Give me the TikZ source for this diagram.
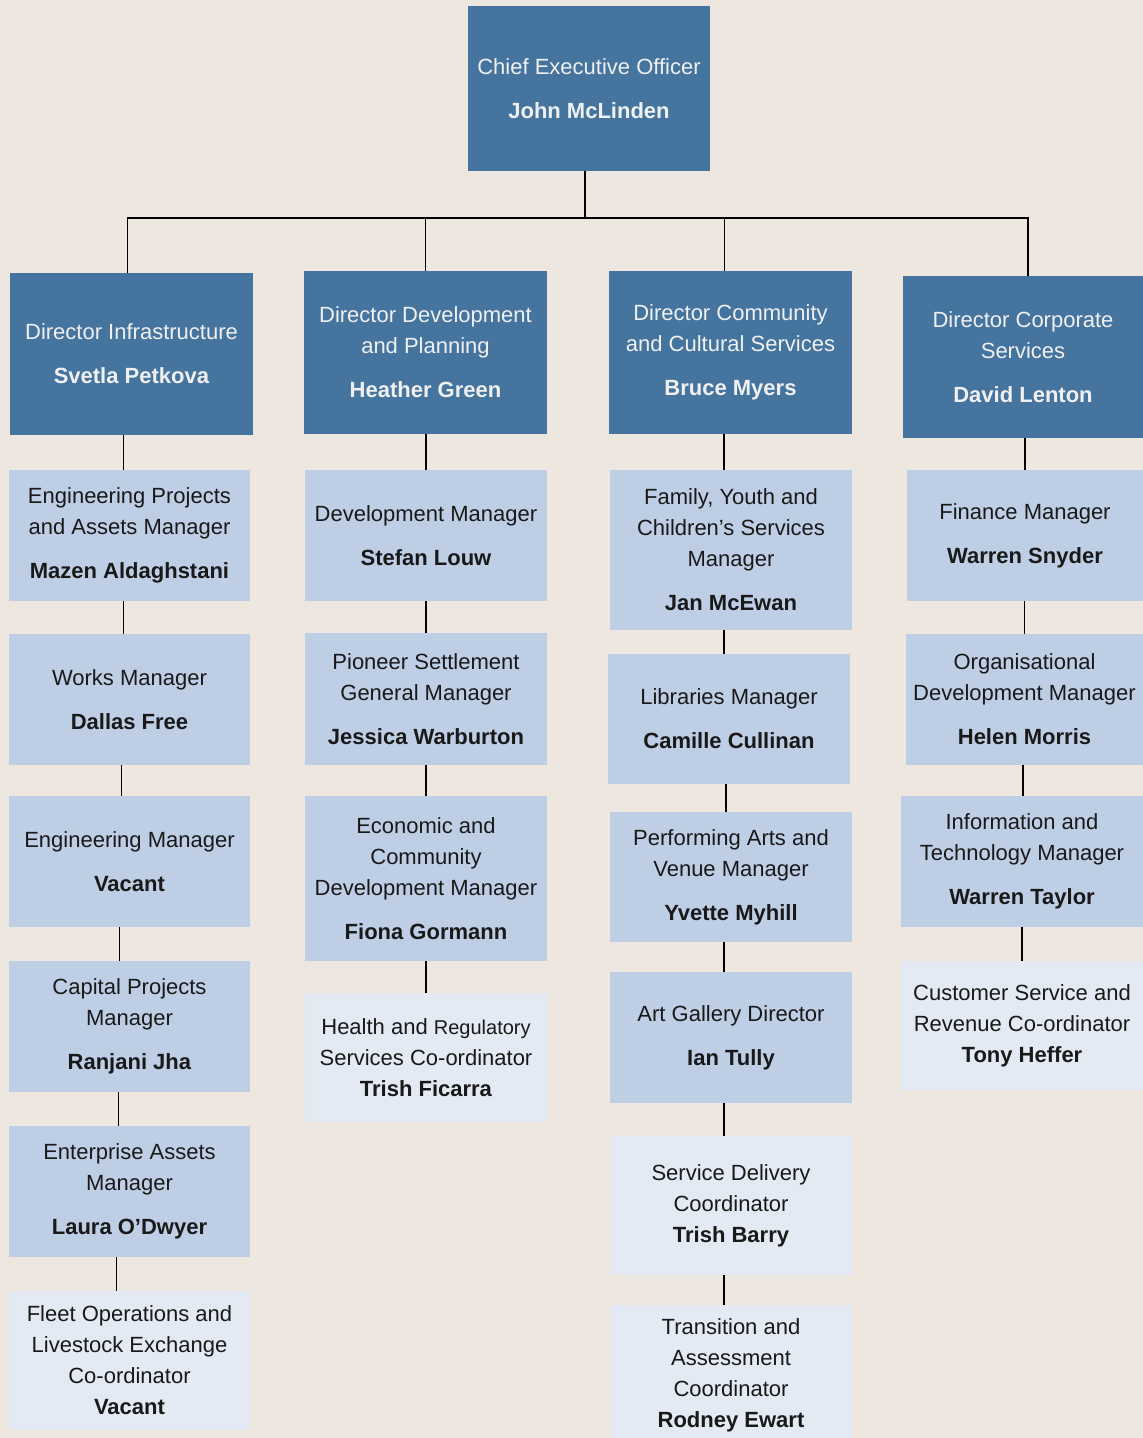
\documentclass[tikz,border=0pt]{standalone}
\usepackage{fontspec}
\setmainfont{Liberation Sans}
\definecolor{bgbeige}{RGB}{238,231,224}
\definecolor{headblue}{RGB}{69,116,159}
\definecolor{staffblue}{RGB}{190,207,229}
\definecolor{paleblue}{RGB}{227,234,243}
\tikzset{
  orgbox/.style={inner sep=0pt, align=center, font=\fontsize{22}{31}\selectfont},
  headbox/.style={orgbox, fill=headblue, text=white!94!black, minimum width=243, minimum height=163},
  staffbox/.style={orgbox, fill=staffblue, text=black!90, minimum width=241, minimum height=131},
  palebox/.style={orgbox, fill=paleblue, text=black!90, minimum width=241, minimum height=130},
  orgline/.style={line width=1.6pt, black}
}
\begin{document}
\begin{tikzpicture}[x=1pt, y=-1pt]
  \useasboundingbox (0,0) rectangle (1143,1438);
  \clip (0,0) rectangle (1143,1438);
  \fill[bgbeige] (0,0) rectangle (1143,1438);
  % CEO
  \node[headbox, minimum width=242, minimum height=165] (ceo) at (589,88.5)
    {Chief Executive Officer\\[13pt]\textbf{John McLinden}};
  % directors
  \node[headbox, minimum height=162] (d1) at (131.5,354)
    {Director Infrastructure\\[13pt]\textbf{Svetla Petkova}};
  \node[headbox] (d2) at (425.5,352.5)
    {Director Development\\and Planning\\[13pt]\textbf{Heather Green}};
  \node[headbox] (d3) at (730.5,352.5)
    {Director Community\\and Cultural Services\\[13pt]\textbf{Bruce Myers}};
  \node[headbox, minimum width=240, minimum height=162] (d4) at (1023,357)
    {Director Corporate\\Services\\[13pt]\textbf{David Lenton}};
  % infrastructure
  \node[staffbox] (i1) at (129.5,535.5)
    {Engineering Projects\\and Assets Manager\\[13pt]\textbf{Mazen Aldaghstani}};
  \node[staffbox] (i2) at (129.5,699.5)
    {Works Manager\\[13pt]\textbf{Dallas Free}};
  \node[staffbox] (i3) at (129.5,861.5)
    {Engineering Manager\\[13pt]\textbf{Vacant}};
  \node[staffbox] (i4) at (129.5,1026.5)
    {Capital Projects\\Manager\\[13pt]\textbf{Ranjani Jha}};
  \node[staffbox] (i5) at (129.5,1191.5)
    {Enterprise Assets\\Manager\\[13pt]\textbf{Laura O'Dwyer}};
  \node[palebox, minimum height=139] (i6) at (129.5,1360.5)
    {Fleet Operations and\\Livestock Exchange\\Co-ordinator\\\textbf{Vacant}};
  % development and planning
  \node[staffbox, minimum width=242] (p1) at (426,535.5)
    {Development Manager\\[13pt]\textbf{Stefan Louw}};
  \node[staffbox, minimum width=242, minimum height=132] (p2) at (426,699)
    {Pioneer Settlement\\General Manager\\[13pt]\textbf{Jessica Warburton}};
  \node[staffbox, minimum width=242, minimum height=165] (p3) at (426,878.5)
    {Economic and\\Community\\Development Manager\\[13pt]\textbf{Fiona Gormann}};
  \node[palebox, minimum width=242, minimum height=129] (p4) at (426,1057.5)
    {Health and {\fontsize{20}{31}\selectfont Regulatory}\\Services Co-ordinator\\\textbf{Trish Ficarra}};
  % community and cultural
  \node[staffbox, minimum width=242, minimum height=160] (c1) at (731,550)
    {Family, Youth and\\Children's Services\\Manager\\[13pt]\textbf{Jan McEwan}};
  \node[staffbox, minimum width=242, minimum height=130] (c2) at (729,719)
    {Libraries Manager\\[13pt]\textbf{Camille Cullinan}};
  \node[staffbox, minimum width=242, minimum height=130] (c3) at (731,877)
    {Performing Arts and\\Venue Manager\\[13pt]\textbf{Yvette Myhill}};
  \node[staffbox, minimum width=242] (c4) at (731,1037.5)
    {Art Gallery Director\\[13pt]\textbf{Ian Tully}};
  \node[palebox, minimum width=242, minimum height=139] (c5) at (731,1205.5)
    {Service Delivery\\Coordinator\\\textbf{Trish Barry}};
  \node[palebox, minimum width=242, minimum height=141] (c6) at (731,1375.5)
    {Transition and\\Assessment\\Coordinator\\\textbf{Rodney Ewart}};
  % corporate services
  \node[staffbox, minimum width=236] (s1) at (1025,535.5)
    {Finance Manager\\[13pt]\textbf{Warren Snyder}};
  \node[staffbox, minimum width=237] (s2) at (1024.5,699.5)
    {Organisational\\Development Manager\\[13pt]\textbf{Helen Morris}};
  \node[staffbox, minimum width=242] (s3) at (1022,861.5)
    {Information and\\Technology Manager\\[13pt]\textbf{Warren Taylor}};
  \node[palebox, minimum width=242, minimum height=129] (s4) at (1022,1025.5)
    {Customer Service and\\Revenue Co-ordinator\\\textbf{Tony Heffer}};
  % connectors
  \path (ceo.south) ++(-4,47) coordinate (bus);
  \draw[orgline] (ceo.south -| bus) -- (bus);
  \foreach \d/\s in {d1/-4,d2/0,d3/-6,d4/5}
    \draw[orgline] ([xshift=\s]\d.north) |- (bus);
  \foreach \a/\b/\s in {d1/i1/-6,i1/i2/-6,i2/i3/-8,i3/i4/-10,i4/i5/-11,i5/i6/-13,
                        d2/p1/0,p1/p2/0,p2/p3/0,p3/p4/0,
                        d3/c1/-7,c1/c2/-5,c2/c3/-5,c3/c4/-7,c4/c5/-7,c5/c6/-7,
                        d4/s1/0,s1/s2/0,s2/s3/1,s3/s4/0}
    \draw[orgline] ([xshift=\s]\b.north) -- ([xshift=\s]\b.north |- \a.south);
\end{tikzpicture}
\end{document}
